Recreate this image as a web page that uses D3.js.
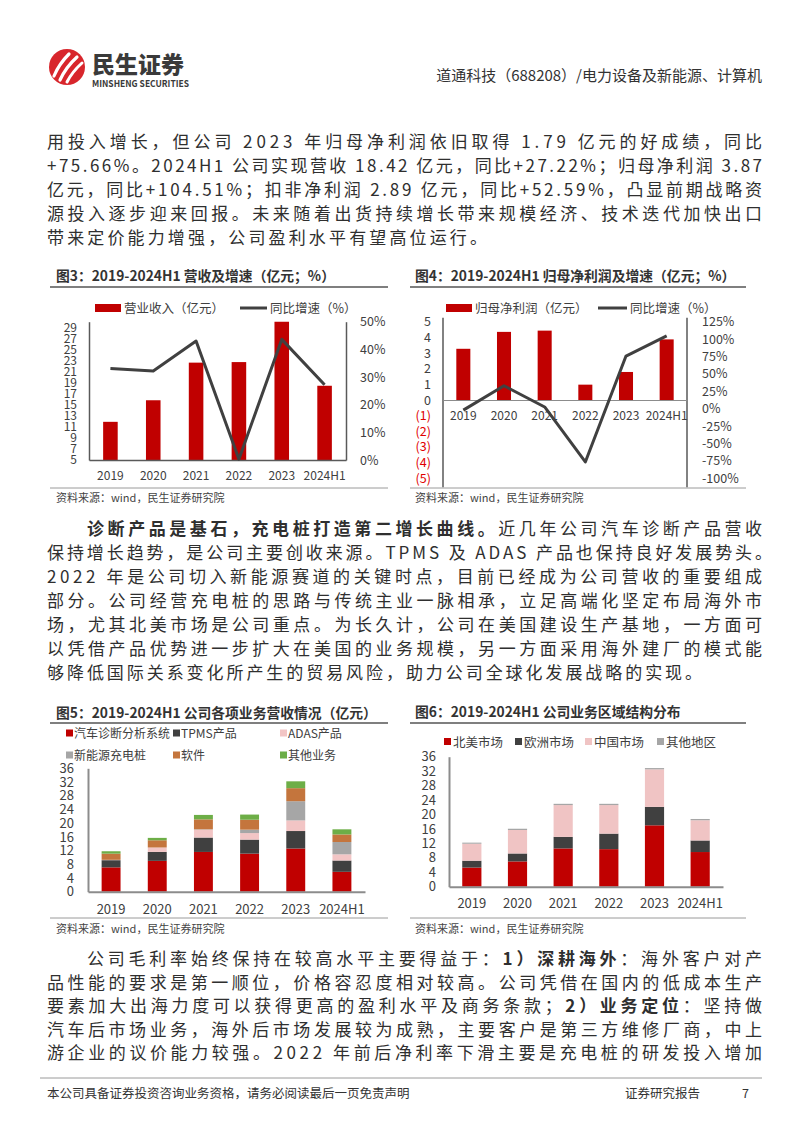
<!DOCTYPE html>
<html><head><meta charset="utf-8">
<script src="https://cdn.jsdelivr.net/npm/d3@7/dist/d3.min.js"></script>
<style>
body{margin:0;background:#fff}
svg{display:block}
text{font-family:"Noto Sans CJK SC","Noto Sans",sans-serif}
</style>
</head><body>
<svg id="page" width="802" height="1133"></svg>
<script>
// ---------------- DATA ----------------
const years = ["2019","2020","2021","2022","2023","2024H1"];
// 图3 营收（亿元）及同比（%）
const revenue = [11.9, 15.8, 22.6, 22.7, 32.5, 18.42];
const revenueGrowth = [33.1, 32.2, 43.0, 0.3, 43.6, 27.22];
const revTicks = [5,7,9,11,13,15,17,19,21,23,25,27,29];
const revPctTicks = [0,10,20,30,40,50];
// 图4 归母净利润（亿元）及同比（%）
const netProfit = [3.27, 4.35, 4.43, 0.98, 1.79, 3.87];
const netProfitGrowth = [-2, 33, 2.5, -76.5, 75.66, 104.51];
const profitTicks = [5,4,3,2,1,0,-1,-2,-3,-4,-5];
const profitPctTicks = [125,100,75,50,25,0,-25,-50,-75,-100];
// 图5 各项业务营收（亿元）
const segNames = ["汽车诊断分析系统","TPMS产品","ADAS产品","新能源充电桩","软件","其他业务"];
const segDiag     = [7.1, 9.0, 11.6, 11.1, 12.6, 5.8];
const segTPMS     = [2.1, 2.6, 4.2, 4.1, 5.1, 3.3];
const segADAS     = [0.1, 1.3, 2.3, 1.9, 3.1, 1.8];
const segCharging = [0.0, 0.0, 0.1, 1.0, 5.6, 3.6];
const segSoftware = [1.8, 2.1, 2.9, 2.9, 3.8, 2.2];
const segOther    = [0.7, 0.7, 1.3, 1.5, 2.0, 1.5];
const stackTicks = [0,4,8,12,16,20,24,28,32,36];
// 图6 区域结构（亿元）
const regionNames = ["北美市场","欧洲市场","中国市场","其他地区"];
const regNA    = [5.3, 7.0, 10.6, 10.4, 17.0, 9.6];
const regEU    = [1.9, 2.2, 3.2, 4.3, 5.1, 3.2];
const regCN    = [4.7, 6.5, 8.8, 7.9, 10.4, 5.6];
const regOther = [0.3, 0.35, 0.35, 0.35, 0.35, 0.35];

// ---------------- PAGE ----------------
const svg = d3.select("#page");
svg.append("rect").attr("width",802).attr("height",1133).attr("fill","#fff");
const TXT = "#333";

// header logo
const logo = svg.append("g").attr("transform","translate(67,67)");
logo.append("circle").attr("r",18).attr("fill","#D8262C");
[["M-13,9 Q-8,-3 2,-13",3.2],["M-7,13 Q-1,0 10,-10",3.2],["M0,15 Q5,5 15,-4",3.0]].forEach(p=>{
  logo.append("path").attr("d",p[0]).attr("fill","none").attr("stroke","#fff").attr("stroke-width",p[1]).attr("stroke-linecap","round");
});
svg.append("text").attr("x",92).attr("y",73).attr("font-size",23).attr("font-weight",900).attr("fill","#3a3a3a").text("民生证券");
svg.append("text").attr("x",92).attr("y",87).attr("font-size",9.5).attr("font-weight",700).attr("fill","#3a3a3a")
  .attr("textLength",97).attr("lengthAdjust","spacingAndGlyphs").text("MINSHENG SECURITIES");
svg.append("text").attr("x",762).attr("y",81).attr("text-anchor","end").attr("font-size",15).attr("fill",TXT)
  .text("道通科技（688208）/电力设备及新能源、计算机");

// body text
const bodyLines = [
 {x:47,y:148,w:715,s:[["用投入增长，但公司 2023 年归母净利润依旧取得 1.79 亿元的好成绩，同比",0]]},
 {x:47,y:172,w:715,s:[["+75.66%。2024H1 公司实现营收 18.42 亿元，同比+27.22%；归母净利润 3.87",0]]},
 {x:47,y:196,w:715,s:[["亿元，同比+104.51%；扣非净利润 2.89 亿元，同比+52.59%，凸显前期战略资",0]]},
 {x:47,y:220,w:715,s:[["源投入逐步迎来回报。未来随着出货持续增长带来规模经济、技术迭代加快出口",0]]},
 {x:47,y:244,w:440,s:[["带来定价能力增强，公司盈利水平有望高位运行。",0]]},
 {x:87,y:535,w:675,s:[["诊断产品是基石，充电桩打造第二增长曲线。",1],["近几年公司汽车诊断产品营收",0]]},
 {x:47,y:559,w:725,s:[["保持增长趋势，是公司主要创收来源。TPMS 及 ADAS 产品也保持良好发展势头。",0]]},
 {x:47,y:583,w:715,s:[["2022 年是公司切入新能源赛道的关键时点，目前已经成为公司营收的重要组成",0]]},
 {x:47,y:607,w:715,s:[["部分。公司经营充电桩的思路与传统主业一脉相承，立足高端化坚定布局海外市",0]]},
 {x:47,y:631,w:715,s:[["场，尤其北美市场是公司重点。为长久计，公司在美国建设生产基地，一方面可",0]]},
 {x:47,y:655,w:715,s:[["以凭借产品优势进一步扩大在美国的业务规模，另一方面采用海外建厂的模式能",0]]},
 {x:47,y:679,w:655,s:[["够降低国际关系变化所产生的贸易风险，助力公司全球化发展战略的实现。",0]]},
 {x:87,y:965,w:675,s:[["公司毛利率始终保持在较高水平主要得益于：",0],["1）深耕海外",1],["：海外客户对产",0]]},
 {x:47,y:989,w:715,s:[["品性能的要求是第一顺位，价格容忍度相对较高。公司凭借在国内的低成本生产",0]]},
 {x:47,y:1012,w:715,s:[["要素加大出海力度可以获得更高的盈利水平及商务条款；",0],["2）业务定位",1],["：坚持做",0]]},
 {x:47,y:1036,w:715,s:[["汽车后市场业务，海外后市场发展较为成熟，主要客户是第三方维修厂商，中上",0]]},
 {x:47,y:1059,w:715,s:[["游企业的议价能力较强。2022 年前后净利率下滑主要是充电桩的研发投入增加",0]]}
];
bodyLines.forEach(l=>{
  const t = svg.append("text").attr("x",l.x).attr("y",l.y).attr("font-size",17).attr("fill","#2f2f2f")
    .attr("textLength",l.w).attr("lengthAdjust","spacing").attr("xml:space","preserve");
  l.s.forEach(seg=>t.append("tspan").attr("font-weight",seg[1]?700:400).text(seg[0]));
});

// footer
svg.append("line").attr("x1",40).attr("x2",762).attr("y1",1078).attr("y2",1078).attr("stroke","#9a9a9a").attr("stroke-width",1);
svg.append("text").attr("x",47).attr("y",1098).attr("font-size",12.5).attr("fill",TXT).text("本公司具备证券投资咨询业务资格，请务必阅读最后一页免责声明");
svg.append("text").attr("x",625).attr("y",1098).attr("font-size",12.5).attr("fill",TXT).text("证券研究报告");
svg.append("text").attr("x",742).attr("y",1098).attr("font-size",12.5).attr("fill",TXT).text("7");

// chart frame helper
function frame(title, tx, lx0, lx1, titleY, ulY, srcLineY, srcY){
  svg.append("text").attr("x",tx).attr("y",titleY).attr("font-size",13.8).attr("font-weight",700).attr("fill",TXT).text(title);
  svg.append("line").attr("x1",lx0).attr("x2",lx1).attr("y1",ulY).attr("y2",ulY).attr("stroke","#555").attr("stroke-width",1.3);
  svg.append("line").attr("x1",lx0).attr("x2",lx1).attr("y1",srcLineY).attr("y2",srcLineY).attr("stroke","#9a9a9a").attr("stroke-width",1);
  svg.append("text").attr("x",tx).attr("y",srcY).attr("font-size",11).attr("fill","#444").text("资料来源：wind，民生证券研究院");
}
frame("图3：2019-2024H1 营收及增速（亿元；%）",56,50,388,281,287,488,502);
frame("图4：2019-2024H1 归母净利润及增速（亿元；%）",415,410,746,281,287,488,502);
frame("图5：2019-2024H1 公司各项业务营收情况（亿元）",56,50,388,718,723,918,933);
frame("图6：2019-2024H1 公司业务区域结构分布",415,410,746,717,723,918,933);

const RED="#C00000", DARK="#404040", LINEC="#404040", AXC="#595959", TICKC="#404040";
function styleAxis(g, fs, showDomain, col, w){
  g.selectAll("text").attr("font-size",fs).attr("fill",TICKC).attr("font-family",'"Noto Sans CJK SC",sans-serif');
  g.select(".domain").attr("stroke", showDomain?col:"none").attr("stroke-width",w||1);
}

// ---------------- 图3 ----------------
(function(){
  const x = d3.scaleBand().domain(years).range([89,346]).paddingInner(0.66).paddingOuter(0.33);
  const y = d3.scaleLinear().domain([5,30]).range([460,321.7]);
  const p = d3.scaleLinear().domain([0,50]).range([460,321.7]);
  svg.append("clipPath").attr("id","c3clip").append("rect").attr("x",89).attr("y",321.7).attr("width",257).attr("height",138.3);
  svg.append("g").attr("clip-path","url(#c3clip)").selectAll("rect").data(years).join("rect")
    .attr("x",d=>x(d)).attr("width",x.bandwidth())
    .attr("y",(d,i)=>y(revenue[i])).attr("height",(d,i)=>y(5)-y(revenue[i])).attr("fill",RED);
  const gl = svg.append("g").attr("transform","translate(89,0)")
    .call(d3.axisLeft(y).tickValues(revTicks).tickSize(0).tickPadding(12).tickSizeOuter(0));
  styleAxis(gl,12,true,AXC,1.5);
  const gr = svg.append("g").attr("transform","translate(346,0)")
    .call(d3.axisRight(p).tickValues(revPctTicks).tickFormat(d=>d+"%").tickSize(0).tickPadding(14).tickSizeOuter(0));
  styleAxis(gr,12.5,true,AXC,1.5);
  const gb = svg.append("g").attr("transform","translate(0,460)")
    .call(d3.axisBottom(x).tickSize(0).tickPadding(11).tickSizeOuter(0));
  styleAxis(gb,12,true,AXC,1.5);
  svg.append("path").datum(revenueGrowth)
    .attr("d",d3.line().x((d,i)=>x(years[i])+x.bandwidth()/2).y(d=>p(d)))
    .attr("fill","none").attr("stroke",LINEC).attr("stroke-width",3).attr("stroke-linejoin","round");
  // legend
  svg.append("rect").attr("x",95).attr("y",304).attr("width",26).attr("height",8).attr("fill",RED);
  svg.append("text").attr("x",124).attr("y",312.5).attr("font-size",12.5).attr("fill",TICKC).text("营业收入（亿元）");
  svg.append("line").attr("x1",240).attr("x2",267).attr("y1",308).attr("y2",308).attr("stroke",LINEC).attr("stroke-width",3);
  svg.append("text").attr("x",270).attr("y",312.5).attr("font-size",12.5).attr("fill",TICKC).text("同比增速（%）");
})();

// ---------------- 图4 ----------------
(function(){
  const x = d3.scaleBand().domain(years).range([443,687]).paddingInner(0.655).paddingOuter(0.3275);
  const y = d3.scaleLinear().domain([-5,5]).range([478.3,321.7]);
  const p = d3.scaleLinear().domain([-100,125]).range([478.3,321.7]);
  svg.selectAll(".b4").data(years).join("rect").attr("class","b4")
    .attr("x",d=>x(d)).attr("width",x.bandwidth())
    .attr("y",(d,i)=>y(Math.max(0,netProfit[i]))).attr("height",(d,i)=>Math.abs(y(0)-y(netProfit[i]))).attr("fill",RED);
  [443,687].forEach(xx=>svg.append("line").attr("x1",xx).attr("x2",xx).attr("y1",y(5)-4).attr("y2",y(-5)+9)
    .attr("stroke",AXC).attr("stroke-width",1.5));
  const gl = svg.append("g").attr("transform","translate(443,0)")
    .call(d3.axisLeft(y).tickValues(profitTicks).tickFormat(d=>d<0?"("+(-d)+")":d).tickSize(0).tickPadding(12));
  styleAxis(gl,12.5,false);
  gl.selectAll("text").attr("fill",d=>d<0?"#E00000":TICKC);
  const gr = svg.append("g").attr("transform","translate(687,0)")
    .call(d3.axisRight(p).tickValues(profitPctTicks).tickFormat(d=>d+"%").tickSize(0).tickPadding(15));
  styleAxis(gr,12.5,false);
  const gb = svg.append("g").attr("transform","translate(0,"+y(0)+")")
    .call(d3.axisBottom(x).tickSize(0).tickPadding(11).tickSizeOuter(0));
  styleAxis(gb,12,true,"#8c8c8c",1);
  svg.append("path").datum(netProfitGrowth)
    .attr("d",d3.line().x((d,i)=>x(years[i])+x.bandwidth()/2).y(d=>p(d)))
    .attr("fill","none").attr("stroke",LINEC).attr("stroke-width",3).attr("stroke-linejoin","round");
  svg.append("rect").attr("x",446).attr("y",304).attr("width",26).attr("height",8).attr("fill",RED);
  svg.append("text").attr("x",475).attr("y",312.5).attr("font-size",12.5).attr("fill",TICKC).text("归母净利润（亿元）");
  svg.append("line").attr("x1",598).attr("x2",627).attr("y1",308).attr("y2",308).attr("stroke",LINEC).attr("stroke-width",3);
  svg.append("text").attr("x",630).attr("y",312.5).attr("font-size",12.5).attr("fill",TICKC).text("同比增速（%）");
})();

// ---------------- 图5 ----------------
(function(){
  const segColors = [RED, DARK, "#F2C5C5", "#A6A6A6", "#C4753D", "#6DAE47"];
  const segSeries = [segDiag, segTPMS, segADAS, segCharging, segSoftware, segOther];
  const rows = years.map((yr,i)=>{const o={year:yr}; segNames.forEach((n,k)=>o[n]=segSeries[k][i]); return o;});
  const stacked = d3.stack().keys(segNames)(rows);
  const x = d3.scaleBand().domain(years).range([88,365]).paddingInner(0.59).paddingOuter(0.295);
  const y = d3.scaleLinear().domain([0,36]).range([891.7,768.3]);
  stacked.forEach((s,k)=>{
    svg.append("g").selectAll("rect").data(s).join("rect")
      .attr("x",d=>x(d.data.year)).attr("width",x.bandwidth())
      .attr("y",d=>y(d[1])).attr("height",d=>y(d[0])-y(d[1])).attr("fill",segColors[k]);
  });
  const gl = svg.append("g").attr("transform","translate(88,0)")
    .call(d3.axisLeft(y).tickValues(stackTicks).tickSize(0).tickPadding(14).tickSizeOuter(0));
  styleAxis(gl,13,true,"#8c8c8c",2);
  const gb = svg.append("g").attr("transform","translate(0,891.7)")
    .call(d3.axisBottom(x).tickSize(0).tickPadding(13).tickSizeOuter(0));
  styleAxis(gb,13,true,"#8c8c8c",2);
  const lx=[66,173,280], ly=[733,755];
  segNames.forEach((n,k)=>{
    const cx=lx[k%3], cy=ly[Math.floor(k/3)];
    svg.append("rect").attr("x",cx).attr("y",cy-3.5).attr("width",7).attr("height",7).attr("fill",segColors[k]);
    svg.append("text").attr("x",cx+8).attr("y",cy+4.5).attr("font-size",12).attr("fill",TICKC).text(n);
  });
})();

// ---------------- 图6 ----------------
(function(){
  const regColors = [RED, DARK, "#F0C4C4", "#A6A6A6"];
  const regSeries = [regNA, regEU, regCN, regOther];
  const rows = years.map((yr,i)=>{const o={year:yr}; regionNames.forEach((n,k)=>o[n]=regSeries[k][i]); return o;});
  const stacked = d3.stack().keys(regionNames)(rows);
  const x = d3.scaleBand().domain(years).range([449,723]).paddingInner(0.58).paddingOuter(0.29);
  const y = d3.scaleLinear().domain([0,36]).range([886.7,756.7]);
  stacked.forEach((s,k)=>{
    svg.append("g").selectAll("rect").data(s).join("rect")
      .attr("x",d=>x(d.data.year)).attr("width",x.bandwidth())
      .attr("y",d=>y(d[1])).attr("height",d=>y(d[0])-y(d[1])).attr("fill",regColors[k]);
  });
  const gl = svg.append("g").attr("transform","translate(449,0)")
    .call(d3.axisLeft(y).tickValues(stackTicks).tickSize(0).tickPadding(13).tickSizeOuter(0));
  styleAxis(gl,13,true,"#8c8c8c",2);
  const gb = svg.append("g").attr("transform","translate(0,886.7)")
    .call(d3.axisBottom(x).tickSize(0).tickPadding(12.5).tickSizeOuter(0));
  styleAxis(gb,13,true,"#8c8c8c",2);
  const lx=[444,515,585,657];
  regionNames.forEach((n,k)=>{
    svg.append("rect").attr("x",lx[k]).attr("y",738).attr("width",7).attr("height",7).attr("fill",regColors[k]);
    svg.append("text").attr("x",lx[k]+9).attr("y",746.5).attr("font-size",12.5).attr("fill",TICKC).text(n);
  });
})();
</script>
</body></html>
